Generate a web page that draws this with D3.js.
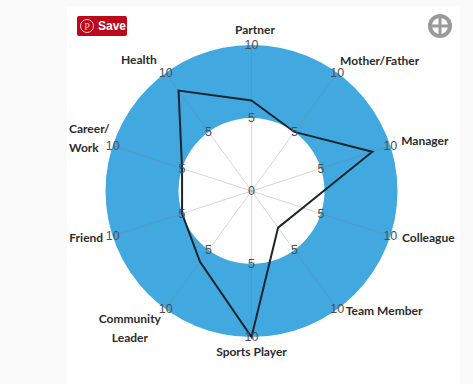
<!DOCTYPE html>
<html>
<head>
<meta charset="utf-8">
<script src="https://cdnjs.cloudflare.com/ajax/libs/d3/7.8.5/d3.min.js"></script>
<style>
  html, body { margin: 0; padding: 0; background: #fafafa; }
  svg { display: block; }
</style>
</head>
<body>
<svg class="chart"></svg>
<script>
var width = 473;
var height = 384;

var categories = ['Partner', 'Mother/Father', 'Manager', 'Colleague', 'Team Member',
  'Sports Player', 'Community Leader', 'Friend', 'Career/ Work', 'Health'];
var values = [6.2, 5, 8.7, 3.7, 3.1, 10, 6, 5, 5, 8.5];
var ringBand = [5, 10];
var tickValues = [5, 10];

// label lines, long names wrap in two
var labelLines = [['Partner'], ['Mother/Father'], ['Manager'], ['Colleague'], ['Team Member'],
  ['Sports Player'], ['Community', 'Leader'], ['Friend'], ['Career/', 'Work'], ['Health']];

var cx = 251.5;
var cy = 191;

var chart = d3.select('.chart')
  .attr('width', width)
  .attr('height', height);

// white page panel behind the chart
chart.append('rect')
  .attr('x', 67)
  .attr('y', 6)
  .attr('width', 393)
  .attr('height', height - 6)
  .attr('fill', '#fff');

var r = d3.scaleLinear().domain([0, 10]).range([0, 146]);
var angle = d3.scaleLinear().domain([0, categories.length]).range([0, 2 * Math.PI]);

function polar(i, radius) {
  var a = angle(i);
  return [cx + radius * Math.sin(a), cy - radius * Math.cos(a)];
}

var g = chart.append('g');

// blue band from 5 to 10
g.append('path')
  .attr('transform', 'translate(' + cx + ',' + cy + ')')
  .attr('d', d3.arc()
    .innerRadius(r(ringBand[0]))
    .outerRadius(r(ringBand[1]))
    .startAngle(0)
    .endAngle(2 * Math.PI)())
  .attr('fill', '#42a9e0');

// spokes
g.selectAll('line.spoke')
  .data(categories)
  .join('line')
    .attr('class', 'spoke')
    .attr('x1', cx)
    .attr('y1', cy)
    .attr('x2', function(d, i) { return polar(i, r(10))[0]; })
    .attr('y2', function(d, i) { return polar(i, r(10))[1]; })
    .attr('stroke', '#777')
    .attr('stroke-opacity', 0.3)
    .attr('stroke-width', 1);

// the series
var radar = d3.lineRadial()
  .angle(function(d, i) { return angle(i); })
  .radius(function(d) { return r(d); })
  .curve(d3.curveLinearClosed);

g.append('path')
  .attr('transform', 'translate(' + cx + ',' + cy + ')')
  .attr('d', radar(values))
  .attr('fill', 'none')
  .attr('stroke', '#17252d')
  .attr('stroke-width', 2)
  .attr('stroke-linejoin', 'miter');

// tick numbers on every spoke
categories.forEach(function(c, i) {
  tickValues.forEach(function(t) {
    var p = polar(i, r(t));
    g.append('text')
      .attr('x', p[0])
      .attr('y', p[1] + 1)
      .attr('text-anchor', 'middle')
      .attr('dominant-baseline', 'middle')
      .attr('font-family', 'Liberation Sans, sans-serif')
      .attr('font-size', 12.5)
      .attr('fill', '#4a4f52')
      .text(t);
  });
});

g.append('text')
  .attr('x', cx)
  .attr('y', r(0) + cy + 1)
  .attr('text-anchor', 'middle')
  .attr('dominant-baseline', 'middle')
  .attr('font-family', 'Liberation Sans, sans-serif')
  .attr('font-size', 12.5)
  .attr('fill', '#4a4f52')
  .text(0);

// category names, nudged off a common radius by hand
var labelRadius = 178;
var labelNudge = [[3.5, 18], [23.5, 15], [4, 6], [7.5, -7], [28, -23],
  [0, -16], [-17, -6], [4, -7], [1, 3], [-8, 14]];

labelLines.forEach(function(lines, i) {
  var p = polar(i, labelRadius);
  var x = p[0] + labelNudge[i][0];
  var y = p[1] + labelNudge[i][1];
  var anchor = lines[0] == 'Career/' ? 'start' : 'middle';
  lines.forEach(function(line, k) {
    chart.append('text')
      .attr('x', anchor == 'start' ? 69 : x)
      .attr('y', y + (k - (lines.length - 1) / 2) * 19)
      .attr('text-anchor', anchor)
      .attr('dominant-baseline', 'middle')
      .attr('font-family', 'Lato, sans-serif')
      .attr('font-weight', 700)
      .attr('font-size', 12)
      .attr('fill', '#2b2b2b')
      .text(line);
  });
});

// Pinterest save button
var pin = chart.append('g').attr('transform', 'translate(77,16)');
pin.append('rect')
  .attr('width', 50)
  .attr('height', 20)
  .attr('rx', 2)
  .attr('fill', '#bd081c');
pin.append('circle')
  .attr('cx', 10)
  .attr('cy', 10)
  .attr('r', 6.5)
  .attr('fill', 'none')
  .attr('stroke', '#f3ccd0')
  .attr('stroke-width', 1);
pin.append('text')
  .attr('x', 10)
  .attr('y', 13.5)
  .attr('text-anchor', 'middle')
  .attr('font-family', 'Liberation Serif, serif')
  .attr('font-size', 10)
  .attr('fill', '#f3ccd0')
  .text('P');
pin.append('text')
  .attr('x', 21)
  .attr('y', 14)
  .attr('font-family', 'Liberation Sans, sans-serif')
  .attr('font-weight', 700)
  .attr('font-size', 12)
  .attr('fill', '#fff')
  .text('Save');

// fullscreen icon, top right
var full = chart.append('g').attr('transform', 'translate(440,26)');
full.append('circle').attr('r', 12).attr('fill', '#999');
full.append('circle').attr('r', 8).attr('fill', '#fff');
full.append('rect').attr('x', -1.5).attr('y', -9).attr('width', 3).attr('height', 18).attr('fill', '#999');
full.append('rect').attr('x', -9).attr('y', -1.5).attr('width', 18).attr('height', 3).attr('fill', '#999');
</script>
</body>
</html>
